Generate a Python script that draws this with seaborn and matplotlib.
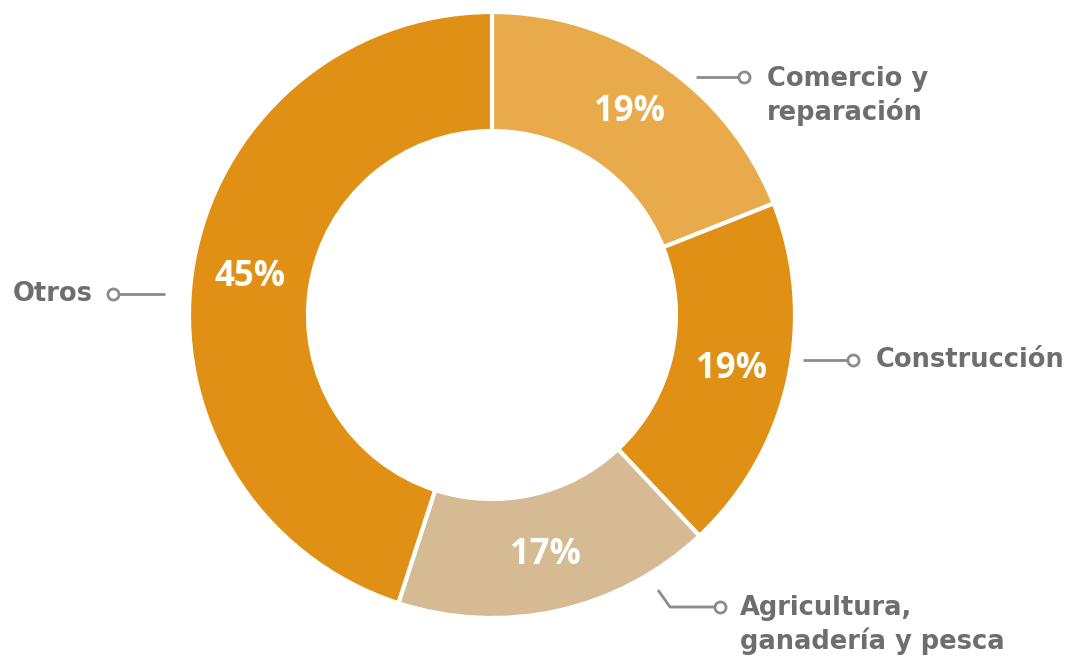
import matplotlib
matplotlib.use("Agg")
import matplotlib.pyplot as plt
import seaborn as sns

# Sector shares (%)
sectors = ["Comercio y\nreparación", "Construcción", "Agricultura,\nganadería y pesca", "Otros"]
shares = [19, 19, 17, 45]
colors = ["#E8AA4B", "#E19016", "#D5BA94", "#E19016"]

sns.set_theme(style="white")
plt.rcParams["font.family"] = ["Open Sans", "DejaVu Sans"]

W, H = 1090, 658
fig = plt.figure(figsize=(W / 100, H / 100), dpi=100)
ax = fig.add_axes([0, 0, 1, 1])

def py(y):
    # pixel row (top origin) to axis y
    return H - y

cx, cy, r_out, r_in = 492, py(315), 303, 184

wedges, _, autotexts = ax.pie(
    shares,
    colors=colors,
    startangle=90,
    counterclock=False,
    center=(cx, cy),
    radius=r_out,
    autopct=lambda p: f"{p:.0f}%",
    pctdistance=0.81,
    wedgeprops=dict(width=r_out - r_in, edgecolor="white", linewidth=3),
    textprops=dict(color="white", fontsize=25, fontweight="bold"),
    frame=True,
)
ax.set_xlim(0, W)
ax.set_ylim(0, H)
ax.set_aspect("equal")
ax.axis("off")

line_c = "#8C8C8C"
text_c = "#6E6E6E"
lab_font = dict(family=["DejaVu Sans"], fontsize=18.5, fontweight="bold", color=text_c)

def connector(xs, ys, marker_x, marker_y):
    ax.plot(xs, [py(v) for v in ys], color=line_c, lw=2, solid_capstyle="butt", zorder=3)
    ax.plot([marker_x], [py(marker_y)], marker="o", ms=8, mfc="white", mec=line_c, mew=2, zorder=4)

# Comercio y reparación
connector([696, 738], [77, 77], 744, 77)
ax.text(767, py(96), sectors[0], ha="left", va="center", linespacing=1.3, **lab_font)

# Construcción
connector([803, 847], [360, 360], 853, 360)
ax.text(876, py(360), sectors[1], ha="left", va="center", **lab_font)

# Agricultura, ganadería y pesca
connector([658, 670, 714], [590, 607, 607], 720, 607)
ax.text(740, py(625), sectors[2], ha="left", va="center", linespacing=1.3, **lab_font)

# Otros
connector([119, 165], [294, 294], 113, 294)
ax.text(93, py(294), sectors[3], ha="right", va="center", **lab_font)

fig.savefig("out.png", dpi=100, facecolor="white")
